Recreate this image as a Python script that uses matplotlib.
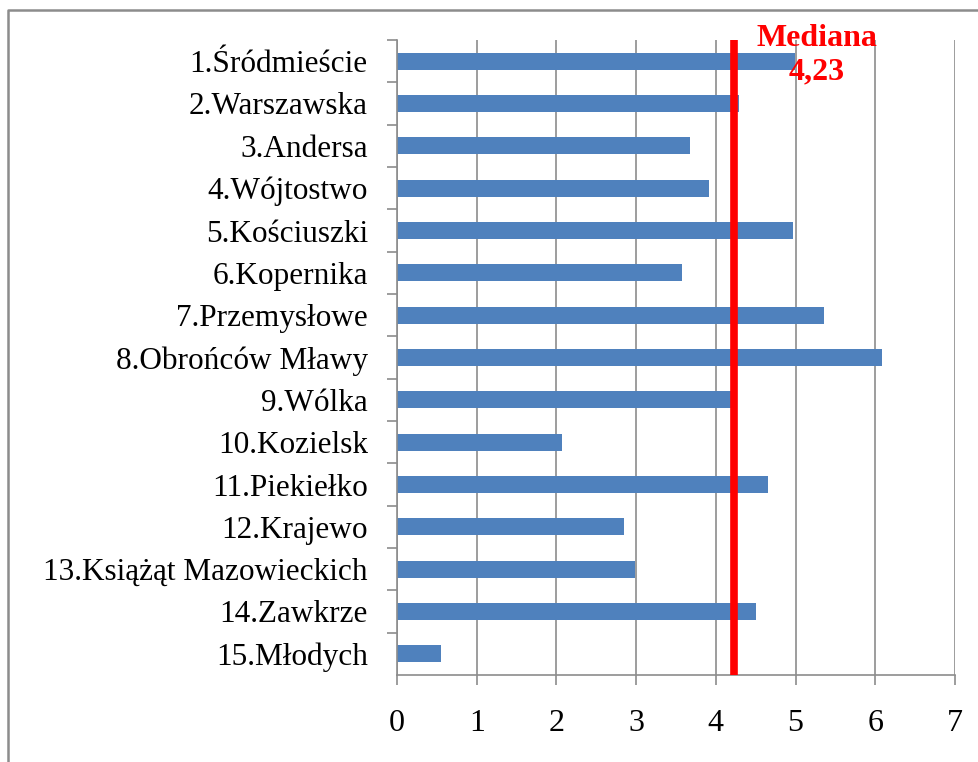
import matplotlib
matplotlib.use("Agg")
from matplotlib import pyplot as plt
from matplotlib.lines import Line2D

labels = [
    "1.Śródmieście", "2.Warszawska", "3.Andersa", "4.Wójtostwo",
    "5.Kościuszki", "6.Kopernika", "7.Przemysłowe", "8.Obrońców Mławy",
    "9.Wólka", "10.Kozielsk", "11.Piekiełko", "12.Krajewo",
    "13.Książąt Mazowieckich", "14.Zawkrze", "15.Młodych",
]
values = [4.99, 4.29, 3.68, 3.91, 4.97, 3.58, 5.36, 6.09,
          4.19, 2.07, 4.65, 2.85, 2.99, 4.50, 0.55]
MEDIAN = 4.23
median_text = "Mediana\n4,23"
xticks = list(range(0, 8))

GRID = "#8c8c8c"
BAR = "#4f81bd"

plt.rcParams["font.family"] = ["Liberation Serif", "DejaVu Serif"]

fig = plt.figure(figsize=(9.79, 7.62), dpi=100)
ax = fig.add_axes([397 / 979, 1 - 675 / 762, (955 - 397) / 979, (675 - 40) / 762])

pos = list(range(len(labels)))
ax.barh(pos, values, height=0.4, color=BAR, zorder=2)
ax.set_ylim(len(labels) - 0.5, -0.5)
ax.set_xlim(0, 7)

ax.set_xticks(xticks)
ax.set_xticklabels([str(t) for t in xticks], fontsize=23)
ax.set_yticks(pos)
ax.set_yticklabels(labels, fontsize=22.5)
ax.set_yticks([p + 0.5 for p in pos[:-1]] + [-0.5], minor=True)

ax.tick_params(axis="y", which="major", length=0, pad=21)
ax.tick_params(axis="y", which="minor", length=7, width=1.2, color=GRID, direction="out")
ax.tick_params(axis="x", length=7, width=1.2, color=GRID, direction="out", pad=17.5)

ax.grid(axis="x", color=GRID, linewidth=1.2, zorder=1)
ax.set_axisbelow(True)
for side in ["top", "right"]:
    ax.spines[side].set_visible(False)
for side in ["left", "bottom"]:
    ax.spines[side].set_color(GRID)
    ax.spines[side].set_linewidth(1.2)

ax.axvline(MEDIAN, color="#ff0000", linewidth=5.5, zorder=3)
ax.text(5.27, -0.88, median_text, color="#ff0000", fontsize=23, fontweight="bold",
        ha="center", va="top", linespacing=1.2, zorder=4, clip_on=False)

# outer frame (left and top edges visible in the picture)
fig.add_artist(Line2D([8 / 979, 8 / 979, 1.0], [0.0, 1 - 10 / 762, 1 - 10 / 762],
                      transform=fig.transFigure, color=GRID, linewidth=1.8))

fig.savefig("out.png", dpi=100)
